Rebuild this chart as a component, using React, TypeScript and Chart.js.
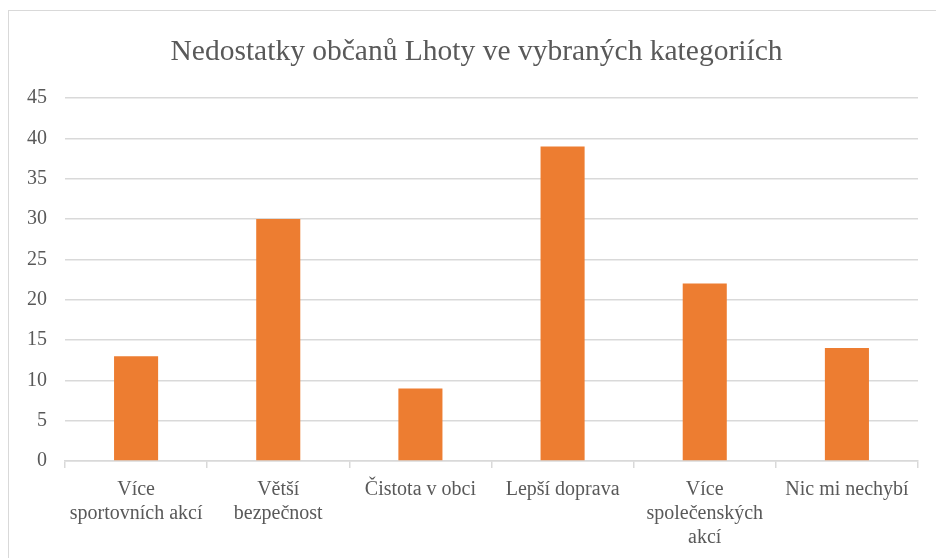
import React, { useEffect, useRef } from "react";
import { Chart, registerables } from "chart.js";

Chart.register(...registerables);

const categories: (string | string[])[] = [
  ["Více", "sportovních akcí"],
  ["Větší", "bezpečnost"],
  "Čistota v obci",
  "Lepší doprava",
  ["Více", "společenských", "akcí"],
  "Nic mi nechybí",
];
const values = [13, 30, 9, 39, 22, 14];
const titleText = "Nedostatky občanů Lhoty ve vybraných kategoriích";

const FONT = "'Liberation Serif', 'Times New Roman', serif";
const TEXT = "#595959";
const GRID = "#d9d9d9";

const shiftTitle = {
  id: "shiftTitle",
  afterLayout(chart: any) {
    const t = chart.titleBlock;
    if (t) {
      t.left += 13;
      t.right += 13;
    }
  },
};

export default function App() {
  const ref = useRef<HTMLCanvasElement | null>(null);
  useEffect(() => {
    document.body.style.overflow = "hidden";
    const chart = new Chart(ref.current!, {
      type: "bar",
      data: {
        labels: categories,
        datasets: [
          {
            data: values,
            backgroundColor: "#ED7D31",
            borderWidth: 0,
            categoryPercentage: 1,
            barPercentage: 0.31,
          },
        ],
      },
      plugins: [shiftTitle],
      options: {
        animation: false,
        responsive: false,
        maintainAspectRatio: false,
        layout: { padding: { left: 0, right: 18, top: 0, bottom: 0 } },
        plugins: {
          legend: { display: false },
          tooltip: { enabled: false },
          title: {
            display: true,
            text: titleText,
            color: TEXT,
            font: { family: FONT, size: 29.5, weight: "normal", lineHeight: 1.2 },
            padding: { top: 24, bottom: 27.6 },
          },
        },
        scales: {
          x: {
            grid: {
              display: true,
              drawOnChartArea: false,
              drawTicks: true,
              tickLength: 7,
              color: GRID,
              lineWidth: 1.5,
            },
            border: { display: true, color: GRID, width: 1.5 },
            ticks: {
              color: TEXT,
              font: { family: FONT, size: 20, lineHeight: 1.2 },
              maxRotation: 0,
              autoSkip: false,
              padding: 10,
            },
            afterFit: (s: any) => {
              s.height = 97;
            },
          },
          y: {
            min: 0,
            max: 45,
            ticks: {
              stepSize: 5,
              color: TEXT,
              font: { family: FONT, size: 20 },
              padding: 18,
            },
            grid: { color: GRID, lineWidth: 1.5, drawTicks: false },
            border: { display: false },
            afterFit: (s: any) => {
              s.width = 56;
            },
          },
        },
      },
    });
    return () => chart.destroy();
  }, []);
  return (
    <div
      style={{
        position: "absolute",
        left: 8,
        top: 10,
        width: 960,
        height: 600,
        borderLeft: "1px solid #d9d9d9",
        borderTop: "1px solid #d9d9d9",
        background: "#fff",
      }}
    >
      <canvas ref={ref} width={927} height={547} style={{ display: "block" }} />
    </div>
  );
}
